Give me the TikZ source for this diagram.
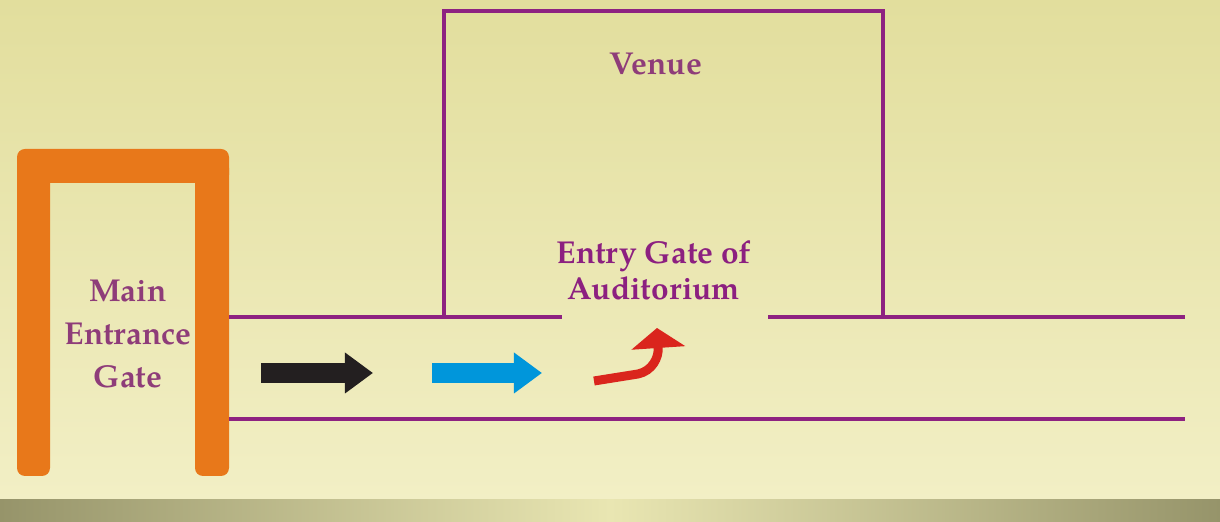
\documentclass[tikz,border=0pt]{standalone}
\usepackage{fontspec}
\setmainfont{TeX Gyre Pagella}
\usetikzlibrary{arrows.meta}

\definecolor{bgtop}{HTML}{E2DE9D}
\definecolor{bgbottom}{HTML}{F2EFC5}
\definecolor{stripend}{HTML}{96946A}
\definecolor{stripmid}{HTML}{E9E6B2}
\definecolor{gateorange}{HTML}{E8781A}
\definecolor{wallpurple}{HTML}{8E2281}
\definecolor{signmauve}{HTML}{8E3C79}
\definecolor{signpurple}{HTML}{8C2080}
\definecolor{arrowblack}{HTML}{231F20}
\definecolor{arrowblue}{HTML}{0096DB}
\definecolor{arrowred}{HTML}{DA251D}

\tikzset{
  wall/.style={wallpurple, line width=0.035cm},
  sign/.style={font=\bfseries\fontsize{9}{12.2}\selectfont, align=center, inner sep=0pt},
  flow/.style={line width=0.2cm, -{Triangle[length=0.28cm, width=0.39cm]}},
}

\begin{document}
\begin{tikzpicture}[x=0.01cm, y=-0.01cm]
      \useasboundingbox (0,0) rectangle (1220,522);
      \shade[top color=bgtop, bottom color=bgbottom] (0,0) rectangle (1220,500);
      \shade[left color=stripend, right color=stripend, middle color=stripmid] (0,500) rectangle (1220,522);

      % main entrance gate
      \fill[gateorange, rounded corners=0.08cm] (17,160) rectangle (50,476);
      \fill[gateorange, rounded corners=0.08cm] (195,160) rectangle (229,476);
      \fill[gateorange, rounded corners=0.08cm] (17,149) rectangle (229,183);

      % road and venue
      \draw[wall] (229,317) -- (562,317);
      \draw[wall] (768,317) -- (1185,317);
      \draw[wall] (229,419) -- (1185,419);
      \draw[wall] (444,317) -- (444,11) -- (883,11) -- (883,317);

      \node[sign, signmauve] (venue) at (656,64) {Venue};
      \node[sign, signmauve] (maingate) at (128,334) {Main\\Entrance\\Gate};
      \node[sign, signpurple, font=\bfseries\fontsize{9}{10.2}\selectfont] (entrygate) at (654,270) {Entry Gate of\\Auditorium};

      % way in
      \draw[flow, arrowblack] (261,373) -- (373,373);
      \draw[flow, arrowblue] (432,373) -- (542,373);
      \draw[arrowred, line width=0.09cm, -{Triangle[length=0.2cm, width=0.53cm]}]
        (594,381) -- (638,374) .. controls (652,371) and (659,358) .. (657,328);
    \end{tikzpicture}
\end{document}
